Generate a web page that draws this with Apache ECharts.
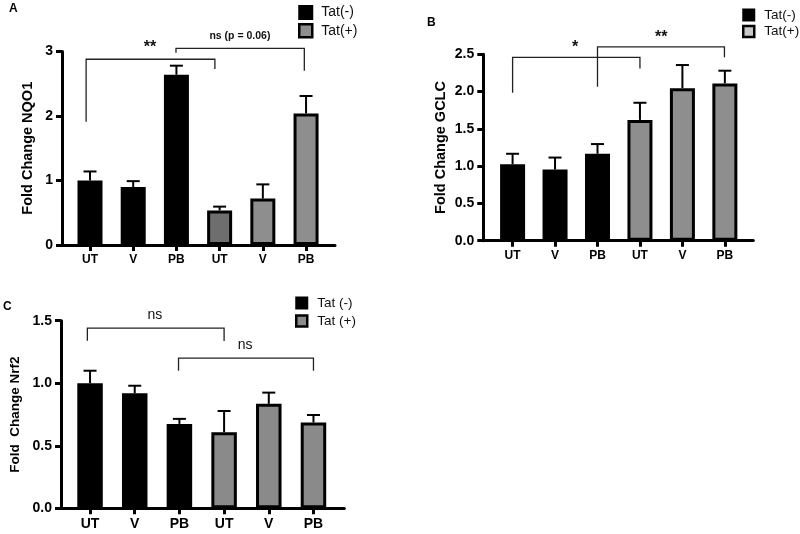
<!DOCTYPE html>
<html><head><meta charset="utf-8">
<script src="https://cdn.jsdelivr.net/npm/echarts@6/dist/echarts.min.js"></script>
<style>html,body{margin:0;padding:0;background:#fff}#c{width:800px;height:534px}</style>
</head><body><div id="c"></div>
<script>
// ---------- data ----------
const categories = ['UT', 'V', 'PB', 'UT', 'V', 'PB'];
// Panel A: NQO1
const nqo1Neg = [1.00, 0.90, 2.64];
const nqo1NegErr = [0.14, 0.09, 0.14];
const nqo1Pos = [0.535, 0.72, 2.04];
const nqo1PosErr = [0.06, 0.22, 0.27];
// Panel B: GCLC
const gclcNeg = [1.026, 0.955, 1.166];
const gclcNegErr = [0.14, 0.16, 0.13];
const gclcPos = [1.62, 2.046, 2.11];
const gclcPosErr = [0.23, 0.31, 0.17];
// Panel C: Nrf2
const nrf2Neg = [1.00, 0.92, 0.675];
const nrf2NegErr = [0.10, 0.06, 0.04];
const nrf2Pos = [0.608, 0.835, 0.686];
const nrf2PosErr = [0.17, 0.09, 0.06];
// brackets: [x1, x2, yLeftEnd, yTop, yRightEnd] in data units
const bracketsA = [[-0.09, 2.89, 1.91, 2.88, 2.73], [1.99, 4.96, 2.98, 3.05, 2.70]];
const bracketLabelsA = [[1.39, 3.06], [3.47, 3.24]];
const bracketTextA = ['**', 'ns (p = 0.06)'];
const bracketsB = [[0.0, 3.0, 1.985, 2.46, 2.31], [2.0, 4.99, 2.065, 2.60, 2.46]];
const bracketLabelsB = [[1.47, 2.59], [3.5, 2.73]];
const bracketTextB = ['*', '**'];
const bracketsC = [[-0.06, 3.0, 1.34, 1.44, 1.337], [1.98, 5.0, 1.10, 1.20, 1.10]];
const bracketLabelsC = [[1.45, 1.545], [3.47, 1.305]];
const bracketTextC = ['ns', 'ns'];
const yTicksA = [0, 1, 2, 3];
const yTicksB = [0, 0.5, 1.0, 1.5, 2.0, 2.5];
const yTicksC = [0, 0.5, 1.0, 1.5];

// ---------- chart ----------
const FONT = 'Liberation Sans, Arial, sans-serif';
const chart = echarts.init(document.getElementById('c'), null, {renderer: 'canvas'});

function xAxis(gi, min, max, fs) {
  return {
    type: 'value', gridIndex: gi, min: min, max: max,
    splitLine: {show: false},
    axisLine: {show: true, onZero: false, lineStyle: {color: '#000', width: 3}},
    axisTick: {show: true, customValues: [0, 1, 2, 3, 4, 5], length: 6, lineStyle: {color: '#000', width: 3}},
    axisLabel: {customValues: [0, 1, 2, 3, 4, 5], margin: 9, color: '#000', fontFamily: FONT, fontWeight: 'bold', fontSize: fs,
      formatter: v => categories[Math.round(v)]}
  };
}
function yAxis(gi, max, interval, name, gap, fs, nfs, fmt) {
  return {
    type: 'value', gridIndex: gi, min: 0, max: max, interval: interval,
    name: name, nameLocation: 'middle', nameGap: gap,
    nameTextStyle: {fontFamily: FONT, fontWeight: 'bold', fontSize: nfs, color: '#000'},
    splitLine: {show: false},
    axisLine: {show: true, onZero: false, lineStyle: {color: '#000', width: 3}},
    axisTick: {show: true, length: 6, lineStyle: {color: '#000', width: 3}},
    axisLabel: {margin: 9, color: '#000', fontFamily: FONT, fontWeight: 'bold', fontSize: fs, formatter: fmt}
  };
}
function bars(name, gi, vals, offset, color, bw, colors) {
  return {
    type: 'bar', name: name, xAxisIndex: gi, yAxisIndex: gi, barWidth: bw, barGap: '-100%', z: 3,
    itemStyle: {color: color, borderColor: '#000', borderWidth: 3},
    data: vals.map((v, i) => {
      const d = {value: [i + offset, v]};
      if (colors && colors[i]) d.itemStyle = {color: colors[i]};
      return d;
    })
  };
}
function errs(gi, vals, e, offset) {
  return {
    type: 'custom', xAxisIndex: gi, yAxisIndex: gi, z: 2, silent: true,
    data: vals.map((v, i) => [i + offset, v, e[i]]),
    renderItem: (p, api) => {
      const x = api.value(0), m = api.value(1), s = api.value(2);
      const a = api.coord([x, m]), b = api.coord([x, m + s]);
      return {type: 'group', children: [
        {type: 'line', shape: {x1: a[0], y1: a[1], x2: b[0], y2: b[1]}, style: {stroke: '#000', lineWidth: 2}},
        {type: 'line', shape: {x1: b[0] - 6.5, y1: b[1], x2: b[0] + 6.5, y2: b[1]}, style: {stroke: '#000', lineWidth: 2}}
      ]};
    }
  };
}
function brackets(gi, br) {
  return {
    type: 'custom', xAxisIndex: gi, yAxisIndex: gi, clip: false, silent: true, z: 4,
    data: br,
    renderItem: (p, api) => {
      const x1 = api.value(0), x2 = api.value(1);
      const pts = [api.coord([x1, api.value(2)]), api.coord([x1, api.value(3)]),
                   api.coord([x2, api.value(3)]), api.coord([x2, api.value(4)])];
      return {type: 'polyline', shape: {points: pts}, style: {stroke: '#222', lineWidth: 1.3, fill: null}};
    }
  };
}
function bracketText(gi, pos, texts, font) {
  return {
    type: 'custom', xAxisIndex: gi, yAxisIndex: gi, clip: false, silent: true, z: 4,
    data: pos,
    renderItem: (p, api) => {
      const c = api.coord([api.value(0), api.value(1)]);
      return {type: 'text', x: c[0], y: c[1], style: {text: texts[p.dataIndex], font: font, fill: '#111',
        textAlign: 'center', textVerticalAlign: 'middle'}};
    }
  };
}
const legendBase = {orient: 'vertical', itemWidth: 12, itemHeight: 12, icon: 'rect', padding: 0,
  textStyle: {fontFamily: FONT, fontSize: 14, color: '#111', padding: [0, 0, 0, 4]}};
const titleStyle = {fontFamily: FONT, fontWeight: 'bold', fontSize: 12, color: '#000'};

const option = {
  animation: false,
  backgroundColor: '#fff',
  title: [
    {text: 'A', left: 9, top: 3, padding: 0, textStyle: titleStyle},
    {text: 'B', left: 427, top: 17, padding: 0, textStyle: titleStyle},
    {text: 'C', left: 3, top: 301, padding: 0, textStyle: titleStyle}
  ],
  legend: [
    Object.assign({}, legendBase, {left: 298, top: 5, itemGap: 3, itemWidth: 13, itemHeight: 13,
      textStyle: Object.assign({}, legendBase.textStyle, {padding: [0, 0, 0, 4]}),
      data: [{name: 'Tat(-)', itemStyle: {color: '#000', borderColor: '#000', borderWidth: 2}},
             {name: 'Tat(+)', itemStyle: {color: '#8e8e8e', borderColor: '#000', borderWidth: 2.5}}]}),
    Object.assign({}, legendBase, {left: 742, top: 8, itemGap: 2.5, itemWidth: 11, itemHeight: 11,
      textStyle: Object.assign({}, legendBase.textStyle, {fontSize: 13.5, padding: [0, 0, 0, 5]}),
      data: [{name: 'Tat(-)', itemStyle: {color: '#000', borderColor: '#000', borderWidth: 2}},
             {name: 'Tat(+)', itemStyle: {color: '#c8c8c8', borderColor: '#000', borderWidth: 2.5}}]}),
    Object.assign({}, legendBase, {left: 295, top: 296, itemGap: 4, itemWidth: 11, itemHeight: 11,
      textStyle: Object.assign({}, legendBase.textStyle, {fontSize: 13.5, padding: [0, 0, 0, 5]}),
      data: [{name: 'Tat (-)', itemStyle: {color: '#000', borderColor: '#000', borderWidth: 2}},
             {name: 'Tat (+)', itemStyle: {color: '#8a8a8a', borderColor: '#000', borderWidth: 2.5}}]})
  ],
  grid: [
    {left: 62, top: 51.5, width: 273, height: 193.5},
    {left: 483.3, top: 54.3, width: 270, height: 186.4},
    {left: 61, top: 320.7, width: 283.3, height: 187.6}
  ],
  xAxis: [xAxis(0, -0.648, 5.67, 12), xAxis(1, -0.69, 5.67, 12), xAxis(2, -0.65, 5.69, 14)],
  yAxis: [
    yAxis(0, 3, 1, 'Fold Change NQO1', 27, 14, 14.5, v => String(v)),
    yAxis(1, 2.5, 0.5, 'Fold Change GCLC', 35, 14, 14.5, v => v.toFixed(1)),
    yAxis(2, 1.5, 0.5, 'Fold  Change Nrf2', 39, 14, 13.5, v => v.toFixed(1))
  ],
  series: [
    errs(0, nqo1Neg, nqo1NegErr, 0), errs(0, nqo1Pos, nqo1PosErr, 3),
    bars('Tat(-)', 0, nqo1Neg, 0, '#000', 25),
    bars('Tat(+)', 0, nqo1Pos, 3, '#8e8e8e', 25, ['#6e6e6e', null, null]),
    brackets(0, bracketsA),
    bracketText(0, [bracketLabelsA[0]], [bracketTextA[0]], 'bold 16px ' + FONT),
    bracketText(0, [bracketLabelsA[1]], [bracketTextA[1]], 'bold 10.5px ' + FONT),

    errs(1, gclcNeg, gclcNegErr, 0), errs(1, gclcPos, gclcPosErr, 3),
    bars('Tat(-)', 1, gclcNeg, 0, '#000', 25),
    bars('Tat(+)', 1, gclcPos, 3, '#8e8e8e', 25),
    brackets(1, bracketsB),
    bracketText(1, bracketLabelsB, bracketTextB, 'bold 16px ' + FONT),

    errs(2, nrf2Neg, nrf2NegErr, 0), errs(2, nrf2Pos, nrf2PosErr, 3),
    bars('Tat (-)', 2, nrf2Neg, 0, '#000', 25.5),
    bars('Tat (+)', 2, nrf2Pos, 3, '#8a8a8a', 25.5),
    brackets(2, bracketsC),
    bracketText(2, bracketLabelsC, bracketTextC, '14px ' + FONT)
  ]
};
chart.setOption(option);
</script>
</body></html>
